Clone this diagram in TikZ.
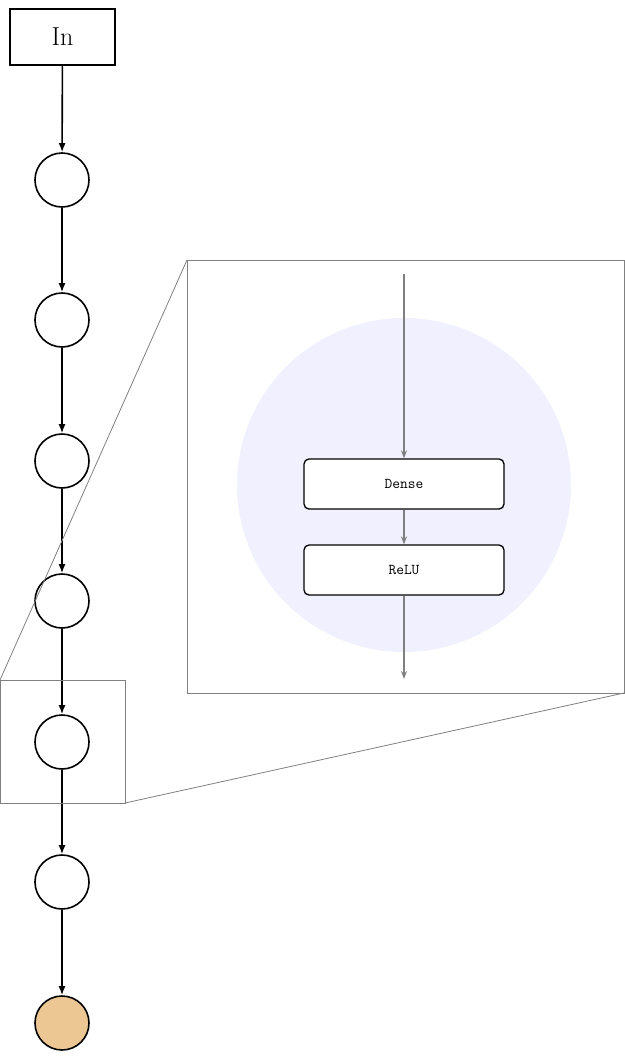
\documentclass[tikz,border=0pt]{standalone}
\usetikzlibrary{arrows.meta}
\definecolor{outfill}{RGB}{237,199,147}
\definecolor{zoomfill}{RGB}{240,240,254}
\begin{document}
\begin{tikzpicture}[x=1pt,y=-1pt,
  neuron/.style={circle,draw,line width=1.6pt,minimum size=54pt,inner sep=0pt},
  conn/.style={line width=1.6pt,-{Latex[length=9pt,width=7pt]}},
  gconn/.style={gray,line width=1.4pt,-{Stealth[length=8pt,width=6pt]}},
  layer/.style={draw,rounded corners=5pt,line width=1.3pt,minimum width=200pt,minimum height=50pt,font=\ttfamily\fontsize{15}{18}\selectfont},
  zoomline/.style={gray,line width=0.8pt}]
\useasboundingbox (0,0) rectangle (624,1060);
\node[draw,line width=1.6pt,minimum width=105pt,minimum height=56pt,font=\fontsize{26}{30}\selectfont] (in) at (62.5,37) {In};
\foreach \i/\y in {1/180,2/320,3/461,4/601,5/742,6/882}{
  \node[neuron] (n\i) at (62,\y) {};
}
\node[neuron,fill=outfill] (n7) at (62,1023) {};
\draw[conn] (in) -- (n1);
\foreach \a/\b in {1/2,2/3,3/4,4/5,5/6,6/7}{\draw[conn] (n\a) -- (n\b);}
% zoom
\coordinate (sA) at (0,680); \coordinate (sB) at (125,803);
\coordinate (bA) at (187,260); \coordinate (bB) at (624,693);
\draw[zoomline] (sA) rectangle (sB);
\draw[zoomline] (bA) rectangle (bB);
\draw[zoomline] (bA) -- (sA);
\draw[zoomline] (bB) -- (sB);
\fill[zoomfill] (404,485) circle (167);
\node[layer,fill=white] (dense) at (404,484) {Dense};
\node[layer,fill=white] (relu) at (404,570) {ReLU};
\coordinate (top) at (404,274);
\coordinate (bot) at (404,679);
\draw[gconn] (top) -- (dense);
\draw[gconn] (dense) -- (relu);
\draw[gconn] (relu) -- (bot);
\end{tikzpicture}
\end{document}
